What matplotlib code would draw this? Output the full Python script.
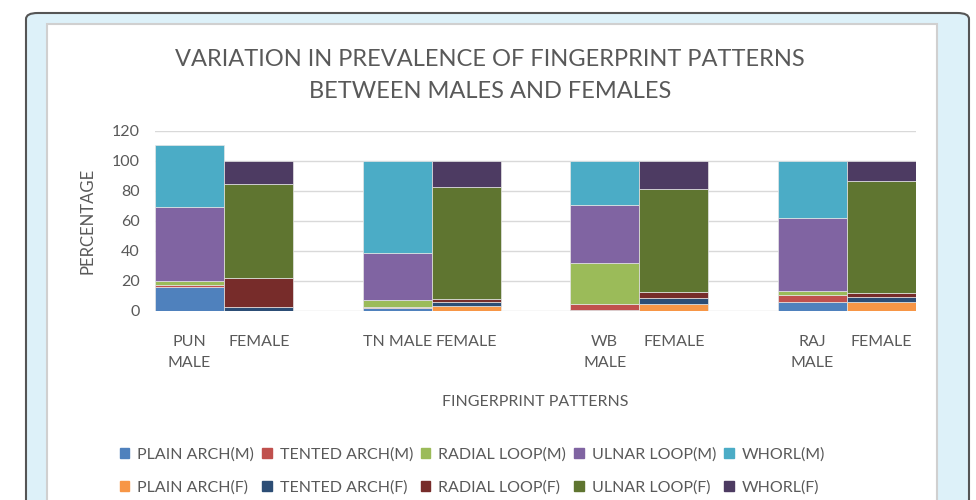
import numpy as np
import matplotlib
matplotlib.use("Agg")
import matplotlib.pyplot as plt
from matplotlib.patches import FancyBboxPatch, Rectangle, Patch

#%% Data (percentages)
groups = ["PUN", "TN", "WB", "RAJ"]
tick_labels = ["PUN\nMALE", "FEMALE", "TN MALE", "FEMALE",
               "WB\nMALE", "FEMALE", "RAJ\nMALE", "FEMALE"]

male_plain_arch = [16.2, 2.0, 1.0, 5.8]
male_tented_arch = [1.0, 1.0, 3.7, 4.9]
male_radial_loop = [3.0, 4.1, 27.1, 2.4]
male_ulnar_loop = [49.3, 31.8, 38.9, 49.1]
male_whorl = [41.2, 61.1, 29.3, 37.8]

female_plain_arch = [0.0, 3.3, 4.4, 5.8]
female_tented_arch = [2.7, 2.9, 4.0, 3.3]
female_radial_loop = [19.5, 1.8, 4.3, 2.7]
female_ulnar_loop = [62.2, 74.4, 68.9, 74.9]
female_whorl = [15.6, 17.6, 18.4, 13.3]

male_names = ["PLAIN ARCH(M)", "TENTED ARCH(M)", "RADIAL LOOP(M)", "ULNAR LOOP(M)", "WHORL(M)"]
female_names = ["PLAIN ARCH(F)", "TENTED ARCH(F)", "RADIAL LOOP(F)", "ULNAR LOOP(F)", "WHORL(F)"]
male_colors = ["#4F81BD", "#C0504D", "#9BBB59", "#8064A2", "#4BACC6"]
female_colors = ["#F79646", "#2C4D75", "#772C2A", "#5F7530", "#4D3B62"]

male_series = [male_plain_arch, male_tented_arch, male_radial_loop, male_ulnar_loop, male_whorl]
female_series = [female_plain_arch, female_tented_arch, female_radial_loop, female_ulnar_loop, female_whorl]

#%% Figure
plt.rcParams['font.family'] = ['Lato', 'DejaVu Sans']
txt = "#595959"

fig = plt.figure(figsize=(9.76, 5.0), dpi=100)

# light blue frame with dark border, white panel inside (behind the axes)
fig.patches.append(FancyBboxPatch((26 / 976, -0.1), 943 / 976, 0.974 + 0.1,
                                  boxstyle="round,pad=0,rounding_size=0.012",
                                  transform=fig.transFigure, facecolor="#DDF1F9",
                                  edgecolor="#555555", linewidth=1.5, zorder=-2))
fig.patches.append(Rectangle((47 / 976, -0.1), 890 / 976, 1 - 24 / 500 + 0.1,
                             transform=fig.transFigure, facecolor="white",
                             edgecolor="#D0D0D0", linewidth=1.5, zorder=-1))

ax = fig.add_axes([155 / 976, 1 - 311 / 500, 761 / 976, 180 / 500])
ax.set_facecolor("none")

n = len(groups)
male_x = np.arange(n) * 3
female_x = male_x + 1

bottom = np.zeros(n)
for vals, name, col in zip(male_series, male_names, male_colors):
    ax.bar(male_x, vals, width=1.0, bottom=bottom, color=col, label=name,
           edgecolor="#E6E6E6", linewidth=0.5, zorder=3)
    bottom += np.array(vals)

bottom = np.zeros(n)
for vals, name, col in zip(female_series, female_names, female_colors):
    ax.bar(female_x, vals, width=1.0, bottom=bottom, color=col, label=name,
           edgecolor="#E6E6E6", linewidth=0.5, zorder=3)
    bottom += np.array(vals)

ax.set_xlim(-0.5, 3 * n - 1.5)
ax.set_ylim(0, 120)
ax.set_yticks(np.arange(0, 121, 20))
ax.yaxis.grid(True, color="#D9D9D9", linewidth=1)
ax.set_axisbelow(True)
for s in ax.spines.values():
    s.set_visible(False)
ax.tick_params(length=0, labelsize=11.5, colors=txt)
ax.tick_params(axis="y", pad=11)
ax.tick_params(axis="x", pad=17)

pos = np.sort(np.concatenate([male_x, female_x]))
ax.set_xticks(pos)
ax.set_xticklabels(tick_labels, linespacing=1.65, va="top")

ax.set_ylabel("PERCENTAGE", fontsize=12, color=txt, labelpad=12)
ax.set_xlabel("FINGERPRINT PATTERNS", fontsize=11.5, color=txt, labelpad=18)

fig.text(0.502, 1 - 59 / 500, "VARIATION IN PREVALENCE OF FINGERPRINT PATTERNS",
         ha="center", va="center", fontsize=17, color=txt)
fig.text(0.502, 1 - 92 / 500, "BETWEEN MALES AND FEMALES",
         ha="center", va="center", fontsize=17, color=txt)

# legend, row-wise order (matplotlib fills columns first)
handles = []
labels = []
for i in range(5):
    handles.append(Patch(color=male_colors[i]))
    labels.append(male_names[i])
    handles.append(Patch(color=female_colors[i]))
    labels.append(female_names[i])
fig.legend(handles, labels, ncol=5, loc="center", bbox_to_anchor=(0.484, 1 - 471 / 500),
           frameon=False, fontsize=11.5, labelcolor=txt, handlelength=0.6,
           handleheight=0.6, handletextpad=0.5, columnspacing=0.5, labelspacing=1.2)

fig.savefig("out.png", dpi=100)
